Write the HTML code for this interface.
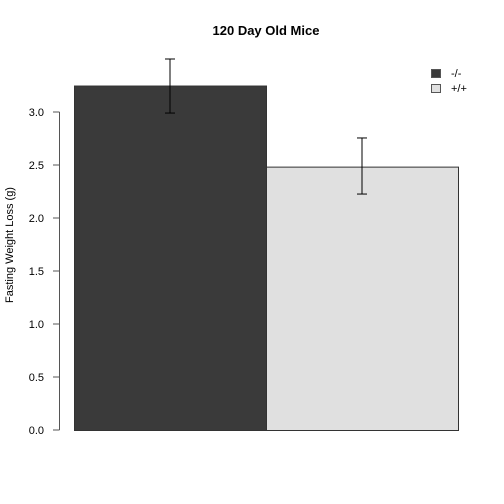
<!DOCTYPE html>
<html><head><meta charset="utf-8"><style>body{margin:0;background:#fff}svg{display:block}text{font-family:"Liberation Sans",Arial,sans-serif}</style></head>
<body>
<svg id="chart" width="504" height="504" viewBox="0 0 504 504">
<text x="266" y="35" text-anchor="middle" font-size="13" font-weight="bold">120 Day Old Mice</text>
<text transform="translate(13,245) rotate(-90)" text-anchor="middle" font-size="11">Fasting Weight Loss (g)</text>
<g id="bars"></g><g id="axis"></g>
<g>
<rect x="431.5" y="69.5" width="9" height="8" fill="#3a3a3a" stroke="#555"/>
<text x="451" y="77" font-size="11">-/-</text>
<rect x="431.5" y="84.5" width="9" height="8" fill="#e0e0e0" stroke="#555"/>
<text x="451" y="92" font-size="11">+/+</text>
</g>
</svg>
<script>
const categories=["-/-","+/+"];
const means=[3.245,2.48];
const errUpper=[3.50,2.755];
const errLower=[2.99,2.226];
const colors=["#3a3a3a","#e0e0e0"];
const ticks=[0,0.5,1,1.5,2,2.5,3];
const tickLabels=["0.0","0.5","1.0","1.5","2.0","2.5","3.0"];
const NS="http://www.w3.org/2000/svg";
const y=v=>430-v*106;
const bx=i=>74+i*192, bw=192;
const bars=document.getElementById('bars'), ax=document.getElementById('axis');
function mk(tag,attrs,parent){const e=document.createElementNS(NS,tag);for(const k in attrs)e.setAttribute(k,attrs[k]);parent.appendChild(e);return e;}
categories.forEach((c,i)=>{
  const r=mk('rect',{x:bx(i)+0.5,y:y(means[i]),width:bw,height:y(0)-y(means[i])+0.5,fill:colors[i],stroke:'#333','stroke-width':1},bars);
  
  
  const cx=bx(i)+bw/2;
  const g=mk('g',{stroke:'#000','stroke-width':1},bars);
  
  
  mk('line',{x1:cx,x2:cx,y1:y(errUpper[i]),y2:y(errLower[i])},g);
  mk('line',{x1:cx-5,x2:cx+5,y1:y(errUpper[i]),y2:y(errUpper[i])},g);
  mk('line',{x1:cx-5,x2:cx+5,y1:y(errLower[i]),y2:y(errLower[i])},g);
});
const al=mk('line',{x1:59.5,x2:59.5,y1:y(0),y2:y(3),stroke:'#555'},ax);


ticks.forEach((t,i)=>{
  const l=mk('line',{x1:53,x2:59.5,y1:y(t),y2:y(t),stroke:'#555'},ax);
  
  
  const tx=mk('text',{x:44,y:y(t)+4,'text-anchor':'end','font-size':11},ax);
  tx.textContent=tickLabels[i];
  
  
});
</script>
</body></html>
